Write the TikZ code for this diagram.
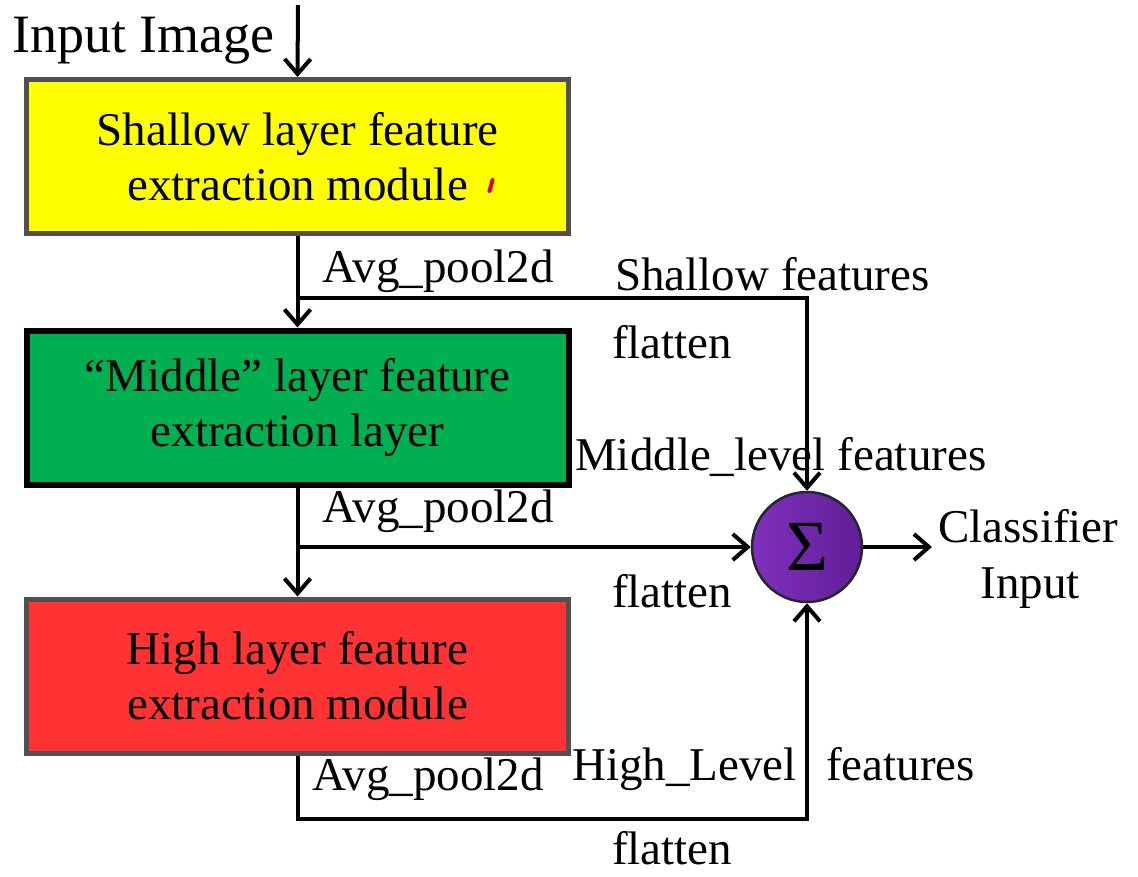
\documentclass[tikz,border=0pt]{standalone}
\usepackage{fontspec}
\setmainfont{Liberation Serif}
\usetikzlibrary{arrows.meta}
\definecolor{boxyellow}{RGB}{255,255,0}
\definecolor{boxgreen}{RGB}{0,176,80}
\definecolor{boxred}{RGB}{255,51,51}
\definecolor{sumlight}{RGB}{128,48,190}
\definecolor{sumdark}{RGB}{96,30,150}
\definecolor{edgegray}{RGB}{80,80,80}
\tikzset{
  module/.style={rectangle, minimum width=542, minimum height=154, inner sep=0,
    align=center, font=\fontsize{47}{55}\selectfont},
  lbl/.style={anchor=base west, inner sep=0, font=\fontsize{47}{55}\selectfont},
  flow/.style={line width=4, -{Straight Barb[length=15, width=26, line width=4]}},
  wire/.style={line width=4}
}
\begin{document}
\begin{tikzpicture}[x=1pt, y=-1pt]
\useasboundingbox (0,0) rectangle (1138,876);

% the three feature extraction stages
\node[module, fill=boxyellow, draw=edgegray, line width=5] (shallow) at (297.5,156.5)
  {Shallow layer feature\\extraction module};
\node[module, fill=boxgreen, draw=black, line width=6] (middle) at (297.5,407.5)
  {“Middle” layer feature\\extraction layer};
\node[module, fill=boxred, draw=edgegray, line width=5] (high) at (297.5,676)
  {High layer feature\\extraction module};

% summation node
\node[circle, minimum size=110, inner sep=0, left color=sumlight, right color=sumdark,
  draw=black!85, line width=2.5, font=\fontsize{72}{72}\selectfont] (sum) at (807,547) {Σ};

% small red stroke beside the first module text
\draw[red!85!black, line width=4, line cap=round] (489.5,191) -- (492.5,180);

% input
\coordinate (in) at (298,5);
\node[anchor=base west, inner sep=0, font=\fontsize{54}{60}\selectfont] (inlbl) at (12,52) {Input Image};
\draw[flow] (in) -- (shallow.north);

% main chain
\draw[flow] (shallow.south) -- (middle.north);
\draw[flow] (middle.south) -- (high.north);

% branches into the summation
\coordinate (b1) at (298,298);
\coordinate (b2) at (298,547);
\draw[flow] (b1) -| (sum.north);
\draw[flow] (b2) -- (sum.west);
\draw[flow] (high.south) -- ++(0,63) -| (sum.south);

% output
\coordinate (out) at (932,547);
\draw[flow] (sum.east) -- (out);

% labels
\node[lbl] (ap1) at (322,282) {Avg\_pool2d};
\node[lbl] (sf) at (615,290) {Shallow features};
\node[lbl] (fl1) at (612,358) {flatten};
\node[lbl] (ml) at (575,470) {Middle\_level features};
\node[lbl] (ap2) at (322,522) {Avg\_pool2d};
\node[lbl] (fl2) at (612,607) {flatten};
\node[lbl] (cl) at (938,542) {Classifier};
\node[anchor=base, inner sep=0, font=\fontsize{47}{55}\selectfont] (ci) at (1030,598) {Input};
\node[lbl] (ap3) at (312,790) {Avg\_pool2d};
\node[lbl] (hl) at (572,780) {High\_Level};
\node[lbl] (hf) at (826,780) {features};
\node[lbl] (fl3) at (612,864) {flatten};
\end{tikzpicture}
\end{document}
